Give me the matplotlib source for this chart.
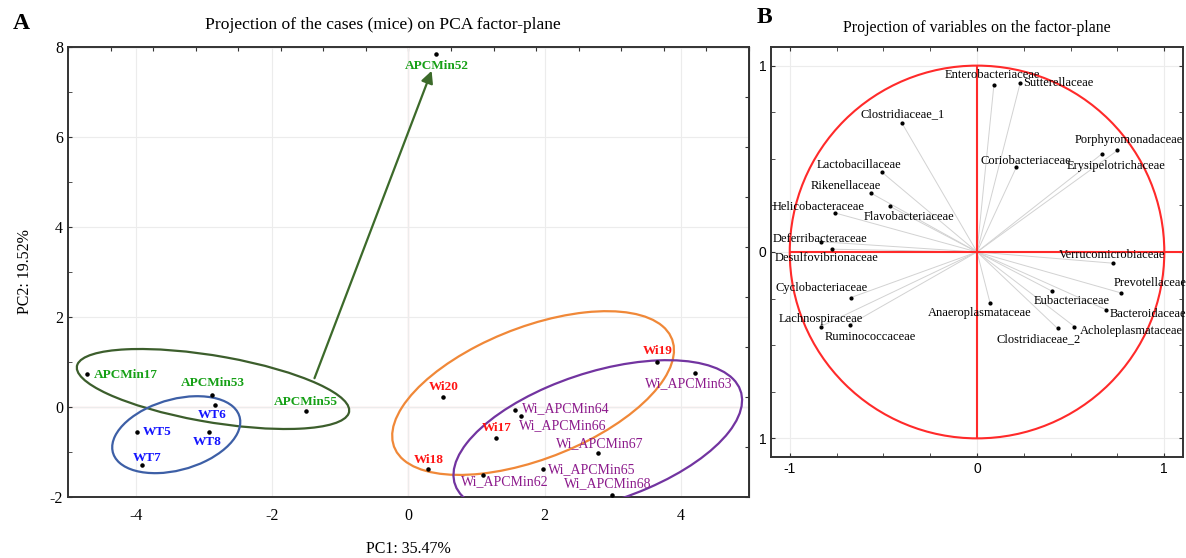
import matplotlib.pyplot as plt
import numpy as np
from matplotlib.patches import Ellipse, Circle

plt.rcParams['axes.unicode_minus'] = False
SERIF = ['Liberation Serif', 'DejaVu Serif']
SANS = ['Liberation Sans', 'DejaVu Sans']

# ---- panel A: cases on the factor plane ----
case_names = ['APCMin52', 'APCMin17', 'APCMin53', 'APCMin55',
              'WT6', 'WT5', 'WT8', 'WT7',
              'Wi19', 'Wi20', 'Wi17', 'Wi18',
              'Wi_APCMin63', 'Wi_APCMin64', 'Wi_APCMin66', 'Wi_APCMin67',
              'Wi_APCMin62', 'Wi_APCMin65', 'Wi_APCMin68']
case_pc1 = [0.41, -4.72, -2.88, -1.50,
            -2.84, -3.98, -2.93, -3.91,
            3.65, 0.51, 1.28, 0.29,
            4.21, 1.56, 1.65, 2.79,
            1.09, 1.97, 2.99]
case_pc2 = [7.84, 0.73, 0.27, -0.09,
            0.04, -0.55, -0.55, -1.29,
            1.00, 0.22, -0.69, -1.38,
            0.76, -0.07, -0.20, -1.02,
            -1.51, -1.38, -1.95]
case_group = ['APCMin'] * 4 + ['WT'] * 4 + ['Wi'] * 4 + ['Wi_APCMin'] * 7

# label placement (offset in pixels, horizontal alignment)
case_label_pos = {
    'APCMin52': (0, -12, 'center'), 'APCMin17': (7, -1, 'left'),
    'APCMin53': (1, 12, 'center'), 'APCMin55': (0, 9, 'center'),
    'WT6': (-3, -10, 'center'), 'WT5': (5, 0, 'left'),
    'WT8': (-2, -10, 'center'), 'WT7': (5, 7, 'center'),
    'Wi19': (1, 11, 'center'), 'Wi20': (1, 10, 'center'),
    'Wi17': (1, 10, 'center'), 'Wi18': (1, 9, 'center'),
    'Wi_APCMin63': (-6, -11, 'center'), 'Wi_APCMin64': (7, 2, 'left'),
    'Wi_APCMin66': (-2, -10, 'left'), 'Wi_APCMin67': (1, 9, 'center'),
    'Wi_APCMin62': (22, -7, 'center'), 'Wi_APCMin65': (5, -1, 'left'),
    'Wi_APCMin68': (-4, 11, 'center'),
}

text_colors = {'APCMin': '#16a016', 'WT': '#1414ff', 'Wi': '#ff1414', 'Wi_APCMin': '#8c1a8c'}
text_weight = {'APCMin': 'bold', 'WT': 'bold', 'Wi': 'bold', 'Wi_APCMin': 'normal'}
text_size = {'APCMin': 9.5, 'WT': 9.5, 'Wi': 9.5, 'Wi_APCMin': 10}

# group ellipses: centre and spread (sxx, sxy, syy)
ellipses = [
    ((-2.87, 0.40), (4.00, -0.95, 0.79), '#3c5e2c'),
    ((-3.41, -0.615), (0.884, 0.265, 0.731), '#3d5fa6'),
    ((1.83, 0.31), (4.28, 1.97, 3.31), '#f08838'),
    ((2.78, -0.68), (4.49, 1.76, 2.96), '#7234a0'),
]

# ---- panel B: variables (loadings) ----
var_names = ['Enterobacteriaceae', 'Sutterellaceae', 'Clostridiaceae_1',
             'Porphyromonadaceae', 'Erysipelotrichaceae', 'Coriobacteriaceae',
             'Lactobacillaceae', 'Rikenellaceae', 'Flavobacteriaceae',
             'Helicobacteraceae', 'Deferribacteraceae', 'Desulfovibrionaceae',
             'Verrucomicrobiaceae', 'Prevotellaceae', 'Eubacteriaceae',
             'Bacteroidaceae', 'Acholeplasmataceae', 'Clostridiaceae_2',
             'Anaeroplasmataceae', 'Cyclobacteriaceae', 'Lachnospiraceae',
             'Ruminococcaceae']
var_pc1 = [0.09, 0.23, -0.40, 0.75, 0.665, 0.21, -0.51, -0.565, -0.465,
           -0.76, -0.835, -0.775, 0.725, 0.77, 0.40, 0.69, 0.52, 0.43,
           0.07, -0.675, -0.835, -0.68]
var_pc2 = [0.895, 0.905, 0.69, 0.545, 0.525, 0.455, 0.43, 0.315, 0.245,
           0.21, 0.055, 0.015, -0.06, -0.22, -0.21, -0.31, -0.40, -0.41,
           -0.275, -0.245, -0.40, -0.39]
var_label_pos = {
    'Enterobacteriaceae': (-2, 10, 'center'), 'Sutterellaceae': (3, 0, 'left'),
    'Clostridiaceae_1': (1, 9, 'center'), 'Porphyromonadaceae': (11, 10, 'center'),
    'Erysipelotrichaceae': (14, -12, 'center'), 'Coriobacteriaceae': (9, 6, 'center'),
    'Lactobacillaceae': (-23, 7, 'center'), 'Rikenellaceae': (-25, 7, 'center'),
    'Flavobacteriaceae': (19, -11, 'center'), 'Helicobacteraceae': (-16, 6, 'center'),
    'Deferribacteraceae': (-1, 3, 'center'), 'Desulfovibrionaceae': (-5, -9, 'center'),
    'Verrucomicrobiaceae': (-1, 8, 'center'), 'Prevotellaceae': (-8, 10, 'left'),
    'Eubacteriaceae': (20, -10, 'center'), 'Bacteroidaceae': (3, -4, 'left'),
    'Acholeplasmataceae': (5, -4, 'left'), 'Clostridiaceae_2': (-19, -11, 'center'),
    'Anaeroplasmataceae': (-10, -10, 'center'), 'Cyclobacteriaceae': (-29, 10, 'center'),
    'Lachnospiraceae': (0, 8, 'center'), 'Ruminococcaceae': (21, -12, 'center'),
}


def group_ellipse(ax, centre, spread, color):
    sxx, sxy, syy = spread
    vals, vecs = np.linalg.eigh(np.array([[sxx, sxy], [sxy, syy]]))
    angle = np.degrees(np.arctan2(vecs[1, 1], vecs[0, 1]))
    ax.add_patch(Ellipse(centre, 2 * np.sqrt(vals[1]), 2 * np.sqrt(vals[0]),
                         angle=angle, fill=False, edgecolor=color, lw=1.6, zorder=3))


def frame(ax):
    for s in ax.spines.values():
        s.set_color('#333333')
        s.set_linewidth(1.4)


fig = plt.figure(figsize=(11.86, 5.58), dpi=100)

# ===== panel A =====
ax = fig.add_axes([0.0573, 0.1093, 0.5742, 0.8065])
ax.set_xlim(-5, 5)
ax.set_ylim(-2, 8)
ax.set_xticks([-4, -2, 0, 2, 4])
ax.set_yticks([-2, 0, 2, 4, 6, 8])
ax.set_yticks(np.arange(-2, 9, 1), minor=True)
ax.grid(True, color='#ececec', lw=0.8)
ax.axhline(0, color='#f6c2c2', lw=0.9, zorder=1)
ax.axvline(0, color='#f6c2c2', lw=0.9, zorder=1)
ax.tick_params(axis='x', length=0, labelsize=11.5, pad=8)
ax.tick_params(axis='y', which='both', direction='in', length=3, labelsize=11.5,
               colors='#333333', labelcolor='black')
for lab in ax.get_xticklabels() + ax.get_yticklabels():
    lab.set_family(SERIF)
frame(ax)

top = ax.secondary_xaxis('top')
top.set_xticks(np.linspace(-5, 5, 17))
top.tick_params(direction='in', length=3, labeltop=False, colors='#333333')
right = ax.secondary_yaxis('right')
right.set_yticks(np.linspace(-2, 8, 10))
right.tick_params(direction='in', length=3, labelright=False, colors='#333333')

for centre, spread, color in ellipses:
    group_ellipse(ax, centre, spread, color)

ax.annotate('', xy=(0.34, 7.47), xytext=(-1.38, 0.64),
            arrowprops=dict(arrowstyle='-|>', color='#3c6a2a', lw=1.6,
                            mutation_scale=18, shrinkA=0, shrinkB=0), zorder=4)

ax.scatter(case_pc1, case_pc2, s=5, color='black', zorder=5)
for name, x, y, g in zip(case_names, case_pc1, case_pc2, case_group):
    dx, dy, ha = case_label_pos[name]
    ax.annotate(name, (x, y), xytext=(dx, dy), textcoords='offset pixels',
                ha=ha, va='center', fontsize=text_size[g], family=SERIF,
                color=text_colors[g], fontweight=text_weight[g], zorder=6)

ax.set_title('Projection of the cases (mice) on PCA factor-plane',
             family=SERIF, fontsize=12.6, pad=13, x=0.463)
ax.set_xlabel('PC1: 35.47%', family=SERIF, fontsize=11.5, labelpad=12)
ax.set_ylabel('PC2: 19.52%', family=SERIF, fontsize=11.5, labelpad=12)
fig.text(0.011, 0.958, 'A', family=SERIF, fontsize=17, fontweight='bold', va='center')

# ===== panel B =====
bx = fig.add_axes([0.6501, 0.181, 0.3474, 0.7348])
bx.set_xlim(-1.1, 1.1)
bx.set_ylim(-1.1, 1.1)
bx.set_xticks([-1, 0, 1])
bx.set_yticks([-1, 0, 1])
bx.set_yticklabels(['1', '0', '1'])
bx.set_xticks(np.arange(-1, 1.01, 0.25), minor=True)
bx.set_yticks(np.arange(-1, 1.01, 0.25), minor=True)
bx.grid(True, color='#ececec', lw=0.8)
bx.tick_params(which='both', direction='in', length=3, labelsize=10,
               top=True, right=True, colors='#333333', labelcolor='black')
for lab in bx.get_xticklabels() + bx.get_yticklabels():
    lab.set_family(SANS)
frame(bx)

bx.add_patch(Circle((0, 0), 1, fill=False, edgecolor='#ff2a2a', lw=1.5, zorder=3))
bx.vlines(0, -1, 1, color='#ff2a2a', lw=1.5, zorder=3)
bx.hlines(0, -1, 1.1, color='#ff2a2a', lw=1.5, zorder=3)

for x, y in zip(var_pc1, var_pc2):
    bx.plot([0, x], [0, y], color='#d2d2d2', lw=0.7, zorder=2)
bx.scatter(var_pc1, var_pc2, s=4, color='black', zorder=5)
for name, x, y in zip(var_names, var_pc1, var_pc2):
    dx, dy, ha = var_label_pos[name]
    bx.annotate(name, (x, y), xytext=(dx, dy), textcoords='offset pixels',
                ha=ha, va='center', fontsize=9, family=SERIF, zorder=6,
                annotation_clip=False)

bx.set_title('Projection of variables on the factor-plane',
             family=SERIF, fontsize=11.4, pad=11)
fig.text(0.638, 0.968, 'B', family=SERIF, fontsize=17, fontweight='bold', va='center')

fig.savefig('out.png', dpi=100)
